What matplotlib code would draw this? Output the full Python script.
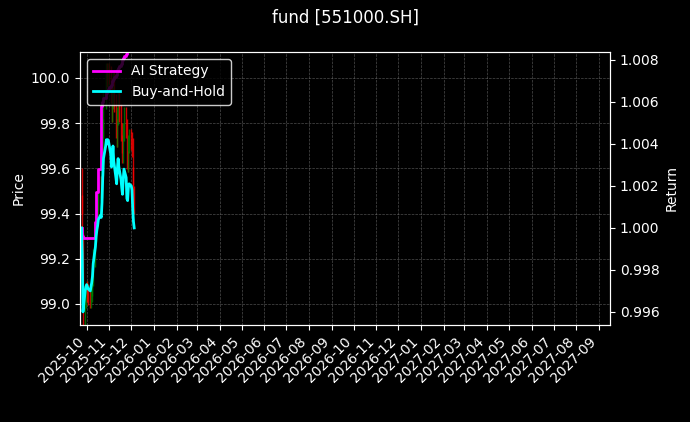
import matplotlib
matplotlib.use("Agg")
import matplotlib.pyplot as plt
import matplotlib.dates as mdates
import pandas as pd
import numpy as np

dates = pd.bdate_range("2025-09-24", "2025-12-05")
bh = [1.0, 0.9988, 0.9960, 0.9970, 0.9972,
      0.9973,0.9972,0.9971,0.9970,0.9972,0.9974,0.9977,0.9983,0.9991,0.9996,0.9999,1.0001,1.0004,1.0006,1.0005,1.0012,1.0024,1.0033,1.0039,1.0042,1.0040,1.0042,1.0041,
      1.0035,1.0029,1.0033,1.0039,1.0032,1.0024,1.0021,1.0028,1.0033,1.0029,1.0023,1.0019,1.0016,1.0023,1.0028,1.0024,1.0014,1.0013,1.0019,1.0021,
      1.0020,1.0018,1.0009,1.0003,1.0000]
ai = [1.0,0.9996,0.9995,0.9995,0.9995,
      0.9995,0.9995,0.9995,0.9995,0.9995,0.9995,0.9995,0.9995,1.0003,1.0017,1.0017,1.0028,1.0028,1.0045,1.0058,1.0060,1.0061,1.0062,1.0063,1.0064,1.0065,1.0066,1.0067,
      1.0068,1.0069,1.0070,1.0071,1.0072,1.0073,1.0074,1.0075,1.0076,1.0077,1.0078,1.0079,1.0080,1.0081,1.0082,1.0083,1.0084,1.0085,1.0086,1.0087,
      1.0088,1.0089,1.0090,1.0090,1.0090]
close = [99.44 + (b - 1) * 140 for b in bh]
opens = [close[0] + 0.12] + close[:-1]

plt.rcParams['font.family'] = ['DejaVu Sans']
fig, ax = plt.subplots(figsize=(6.9, 4.22), dpi=100)
fig.patch.set_facecolor('black')
ax.set_facecolor('black')
for d, o, c in zip(dates, opens, close):
    col = 'green' if c >= o else 'red'
    ax.vlines(d, min(o, c) - 0.04, max(o, c) + 0.04, color=col, lw=1, alpha=0.8)
ax.set_ylim(98.907, 100.115)
ax.set_ylabel("Price", color='white')
ax2 = ax.twinx()
ax2.plot(dates, ai, color='magenta', lw=2, label='AI Strategy', drawstyle='steps-post')
ax2.plot(dates, bh, color='cyan', lw=2, label='Buy-and-Hold')
ax2.set_ylim(0.99538, 1.00838)
ax2.set_ylabel("Return", color='white')
ax.set_xlim(pd.Timestamp("2025-09-22"), pd.Timestamp("2027-09-16"))
ax.xaxis.set_major_locator(mdates.MonthLocator())
ax.xaxis.set_major_formatter(mdates.DateFormatter("%Y-%m"))
plt.setp(ax.get_xticklabels(), rotation=45, ha='right')
ax.grid(True, color='gray', ls='--', lw=0.5, alpha=0.6)
for a in (ax, ax2):
    a.tick_params(colors='white')
    for s in a.spines.values():
        s.set_color('white')
leg = ax2.legend(loc='upper left', facecolor='black', edgecolor='white', labelcolor='white')
fig.suptitle("fund [551000.SH]", color='white')
fig.subplots_adjust(left=0.116, right=0.884, top=0.877, bottom=0.23)
fig.savefig("out.png", facecolor='black')
